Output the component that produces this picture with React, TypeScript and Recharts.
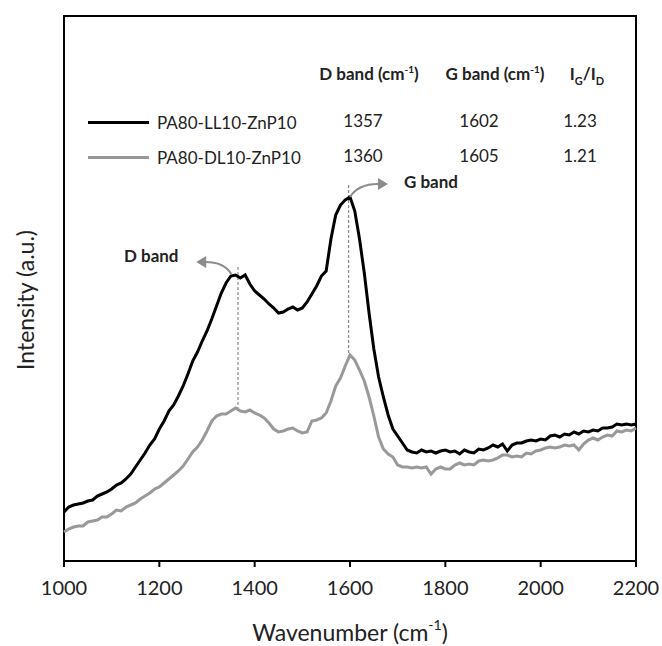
import React from "react";
import { LineChart, Line, XAxis, YAxis, ReferenceLine, ReferenceDot, ReferenceArea } from "recharts";

// Raman spectra, intensity in arbitrary units
const wavenumbers = [
  1000, 1010, 1020, 1030, 1040, 1050, 1060, 1070, 1080, 1090,
  1100, 1110, 1120, 1130, 1140, 1150, 1160, 1170, 1180, 1190,
  1200, 1210, 1220, 1230, 1240, 1250, 1260, 1270, 1280, 1290,
  1300, 1310, 1320, 1330, 1340, 1350, 1360, 1370, 1380, 1390,
  1400, 1410, 1420, 1430, 1440, 1450, 1460, 1470, 1480, 1490,
  1500, 1510, 1520, 1530, 1540, 1550, 1560, 1570, 1580, 1590,
  1600, 1610, 1620, 1630, 1640, 1650, 1660, 1670, 1680, 1690,
  1700, 1710, 1720, 1730, 1740, 1750, 1760, 1770, 1780, 1790,
  1800, 1810, 1820, 1830, 1840, 1850, 1860, 1870, 1880, 1890,
  1900, 1910, 1920, 1930, 1940, 1950, 1960, 1970, 1980, 1990,
  2000, 2010, 2020, 2030, 2040, 2050, 2060, 2070, 2080, 2090,
  2100, 2110, 2120, 2130, 2140, 2150, 2160, 2170, 2180, 2190,
  2200,
];

const llIntensity = [
  49, 54, 56, 57, 58, 60, 61, 65, 67, 69,
  72, 76, 78, 82, 87, 94, 101, 108, 116, 122,
  132, 140, 150, 156, 165, 175, 187, 200, 209, 220,
  230, 242, 255, 268, 278, 285, 286, 283, 286, 277,
  270, 266, 262, 257, 253, 248, 249, 252, 254, 251,
  253, 259, 267, 275, 285, 290, 322, 346, 356, 361,
  364, 350, 322, 288, 248, 212, 184, 164, 146, 132,
  125, 118, 111, 109, 108, 111, 109, 110, 108, 110,
  111, 109, 110, 107, 111, 109, 108, 112, 111, 113,
  116, 114, 117, 110, 116, 118, 118, 120, 121, 120,
  122, 121, 125, 126, 124, 127, 126, 129, 127, 130,
  129, 131, 130, 133, 133, 134, 137, 136, 137, 136,
  137,
];

const dlIntensity = [
  29, 32, 34, 35, 35, 39, 40, 41, 44, 44,
  47, 51, 50, 54, 56, 58, 62, 65, 68, 72,
  74, 78, 82, 86, 90, 95, 102, 109, 114, 121,
  130, 140, 145, 147, 147, 150, 153, 150, 149, 151,
  148, 146, 143, 138, 132, 129, 130, 132, 133, 130,
  128, 129, 140, 141, 143, 148, 160, 175, 183, 195,
  206, 201, 191, 180, 164, 145, 124, 112, 107, 104,
  96, 94, 94, 93, 94, 93, 94, 87, 92, 94,
  92, 92, 96, 98, 96, 97, 96, 100, 101, 100,
  101, 103, 106, 106, 104, 105, 104, 108, 107, 110,
  111, 113, 114, 113, 114, 116, 115, 116, 111, 117,
  121, 123, 121, 124, 126, 125, 130, 129, 131, 130,
  133,
];

const xTicks = [1000, 1200, 1400, 1600, 1800, 2000, 2200];

const sampleNames = ["PA80-LL10-ZnP10", "PA80-DL10-ZnP10"];
const sampleColors = ["#000000", "#999999"];
const dBandPos = [1357, 1360];
const gBandPos = [1602, 1605];
const ratios = ["1.23", "1.21"];

const data = wavenumbers.map((wn, i) => ({
  wn,
  ll: llIntensity[i],
  dl: dlIntensity[i],
}));

const FONT = "Lato, 'Open Sans', sans-serif";
const GREY = "#8c8c8c";

function DArrow(props: any) {
  const { cx, cy } = props;
  return (
    <g>
      <path d={`M ${cx - 2} ${cy - 1} Q ${cx - 9} ${cy - 13} ${cx - 28} ${cy - 13}`} fill="none" stroke={GREY} strokeWidth={2} />
      <path d={`M ${cx - 37} ${cy - 13} L ${cx - 27} ${cy - 19} L ${cx - 27} ${cy - 7} Z`} fill={GREY} />
      <text x={cx - 82} y={cy - 17} textAnchor="middle" dominantBaseline="middle" fontFamily={FONT} fontWeight={700} fontSize={17} fill="#222">
        D band
      </text>
    </g>
  );
}

function GArrow(props: any) {
  const { cx, cy } = props;
  return (
    <g>
      <path d={`M ${cx} ${cy} Q ${cx + 8} ${cy - 13} ${cx + 28} ${cy - 13}`} fill="none" stroke={GREY} strokeWidth={2} />
      <path d={`M ${cx + 38} ${cy - 13} L ${cx + 28} ${cy - 19} L ${cx + 28} ${cy - 7} Z`} fill={GREY} />
      <text x={cx + 81} y={cy - 13} textAnchor="middle" dominantBaseline="middle" fontFamily={FONT} fontWeight={700} fontSize={17} fill="#222">
        G band
      </text>
    </g>
  );
}

const cell = (left: number, top: number, extra: React.CSSProperties = {}): React.CSSProperties => ({
  position: "absolute",
  left,
  top,
  transform: "translate(-50%, -50%)",
  whiteSpace: "nowrap",
  fontFamily: FONT,
  fontSize: 17,
  color: "#222",
  ...extra,
});

const sup: React.CSSProperties = { fontSize: 10, verticalAlign: 7 };
const sub: React.CSSProperties = { fontSize: 11, verticalAlign: -5 };

export default function App() {
  const rowY = [120, 155];
  return (
    <div style={{ position: "absolute", left: 0, top: 0, width: 662, height: 646, background: "#fff" }}>
      <LineChart width={662} height={646} data={data} margin={{ top: 16, right: 26, bottom: 5, left: 63 }}>
        <XAxis
          dataKey="wn"
          type="number"
          domain={[1000, 2200]}
          ticks={xTicks}
          tickSize={6}
          tickMargin={14}
          height={80}
          axisLine={{ stroke: "#000", strokeWidth: 2 }}
          tickLine={{ stroke: "#000", strokeWidth: 2 }}
          tick={{ fontSize: 20, fill: "#222", fontFamily: FONT }}
          label={{
            content: (p: any) => {
              const vb = p.viewBox;
              return (
                <text x={vb.x + vb.width / 2} y={vb.y + 74} textAnchor="middle" dominantBaseline="middle" fontFamily={FONT} fontSize={23} fill="#222">
                  Wavenumber (cm
                  <tspan fontSize={14} dy={-9}>-1</tspan>
                  <tspan dy={9}>)</tspan>
                </text>
              );
            },
          }}
        />
        <YAxis domain={[0, 545]} width={1} tick={false} tickLine={false} axisLine={false} />
        {/* plot frame */}
        <ReferenceArea x1={1000} x2={2200} y1={0} y2={545} fill="none" stroke="#000" strokeWidth={2} />
        <ReferenceLine segment={[{ x: 1365, y: 294 }, { x: 1365, y: 153 }]} stroke={GREY} strokeDasharray="3 2" strokeWidth={1.2} />
        <ReferenceLine segment={[{ x: 1597, y: 376 }, { x: 1597, y: 208 }]} stroke={GREY} strokeDasharray="3 2" strokeWidth={1.2} />
        <Line dataKey="dl" type="linear" stroke={sampleColors[1]} strokeWidth={3} dot={false} isAnimationActive={false} />
        <Line dataKey="ll" type="linear" stroke={sampleColors[0]} strokeWidth={3} dot={false} isAnimationActive={false} />
        <ReferenceDot x={1355} y={286} r={0} shape={DArrow} />
        <ReferenceDot x={1600} y={364} r={0} shape={GArrow} />
      </LineChart>

      <div style={cell(25, 300, { fontSize: 23, transform: "translate(-50%, -50%) rotate(-90deg)" })}>Intensity (a.u.)</div>
      <div style={cell(369, 73, { fontWeight: 700, fontSize: 17 })}>
        D band (cm<span style={sup}>-1</span>)
      </div>
      <div style={cell(495, 73, { fontWeight: 700, fontSize: 17 })}>
        G band (cm<span style={sup}>-1</span>)
      </div>
      <div style={cell(587, 75, { fontWeight: 700, fontSize: 17 })}>
        I<span style={sub}>G</span>/I<span style={sub}>D</span>
      </div>
      {sampleNames.map((name, i) => (
        <React.Fragment key={name}>
          <div style={{ position: "absolute", left: 88, top: rowY[i] + 1, width: 61, height: 3, background: sampleColors[i] }} />
          <div style={cell(157, rowY[i] + 2, { transform: "translate(0, -50%)" })}>{name}</div>
          <div style={cell(363, rowY[i])}>{dBandPos[i]}</div>
          <div style={cell(479, rowY[i])}>{gBandPos[i]}</div>
          <div style={cell(580, rowY[i])}>{ratios[i]}</div>
        </React.Fragment>
      ))}
    </div>
  );
}
